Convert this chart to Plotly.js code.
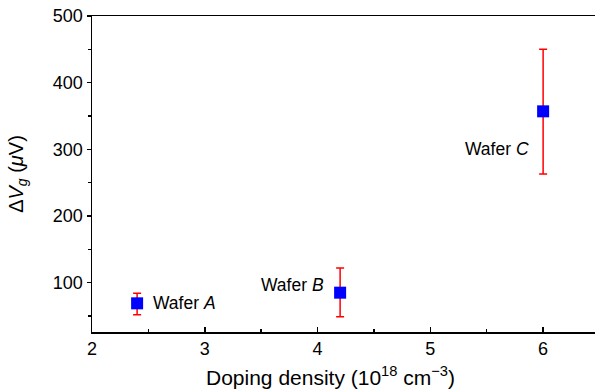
<!DOCTYPE html>
<html>
<head>
<meta charset="utf-8">
<script src="https://cdn.plot.ly/plotly-3.0.1.min.js"></script>
<style>html,body{margin:0;padding:0;background:#fff;}</style>
</head>
<body>
<div id="chart" style="width:595px;height:392px;"></div>
<script>
const wafers = ["A", "B", "C"];
const dopingDensity = [2.4, 4.2, 6.0];
const deltaVg = [69, 85, 357];
const errPlus = [15, 37, 93];
const errMinus = [17, 36, 94];
const xTickVals = [2, 3, 4, 5, 6];
const yTickVals = [100, 200, 300, 400, 500];
const xTitle = "Doping density (10<sup>18</sup> cm<sup>\u22123</sup>)";
const yTitle = "\u0394<i>V</i><sub><i>g</i></sub> (<i>\u03bc</i>V)";

const font = "Liberation Sans, Arial, Helvetica, sans-serif";

const trace = {
  x: dopingDensity,
  y: deltaVg,
  type: "scatter",
  mode: "markers",
  marker: {symbol: "square", size: 12, color: "#0000ff"},
  error_y: {
    type: "data", symmetric: false,
    array: errPlus, arrayminus: errMinus,
    color: "#ff0000", thickness: 1.5, width: 4
  },
  showlegend: false,
  hoverinfo: "x+y"
};

const labelOffsets = [
  {xanchor: "left", xshift: 14, yshift: 0},
  {xanchor: "right", xshift: -14, yshift: 8},
  {xanchor: "right", xshift: -12, yshift: -38}
];
const annotations = wafers.map((w, i) => ({
  x: dopingDensity[i], y: deltaVg[i], xref: "x", yref: "y",
  text: "Wafer <i>" + w + "</i>", showarrow: false,
  xanchor: labelOffsets[i].xanchor, yanchor: "middle",
  xshift: labelOffsets[i].xshift, yshift: labelOffsets[i].yshift,
  font: {family: font, size: 17.5, color: "#000"}
}));
annotations.push({
  xref: "paper", yref: "paper", x: 0.475, y: 0, yshift: -44,
  xanchor: "center", yanchor: "middle", showarrow: false,
  text: xTitle, font: {family: font, size: 21, color: "#000"}
});

const layout = {
  width: 595, height: 392,
  margin: {l: 92, r: 0, t: 16, b: 60},
  paper_bgcolor: "#fff", plot_bgcolor: "#fff",
  font: {family: font, size: 18, color: "#000"},
  xaxis: {
    range: [2, 6.46],
    tickvals: xTickVals,
    ticks: "inside", ticklen: 5, tickwidth: 1.5, tickcolor: "#000",
    minor: {dtick: 0.5, tick0: 2, ticks: "inside", ticklen: 3, tickwidth: 1.5, tickcolor: "#000", showgrid: false},
    showline: true, linecolor: "#000", linewidth: 1.5, mirror: true,
    showgrid: false, zeroline: false,
    tickfont: {family: font, size: 18}
  },
  yaxis: {
    range: [26, 500],
    tickvals: yTickVals,
    ticks: "outside", ticklen: 4, tickwidth: 1.5, tickcolor: "#000",
    minor: {dtick: 50, tick0: 0, ticks: "outside", ticklen: 3, tickwidth: 1.5, tickcolor: "#000", showgrid: false},
    showline: true, linecolor: "#000", linewidth: 1.5,
    showgrid: false, zeroline: false,
    tickfont: {family: font, size: 18},
    title: {text: yTitle, font: {family: font, size: 20}, standoff: 24}
  },
  annotations: annotations
};

Plotly.newPlot("chart", [trace], layout, {staticPlot: true, displayModeBar: false});
</script>
</body>
</html>
